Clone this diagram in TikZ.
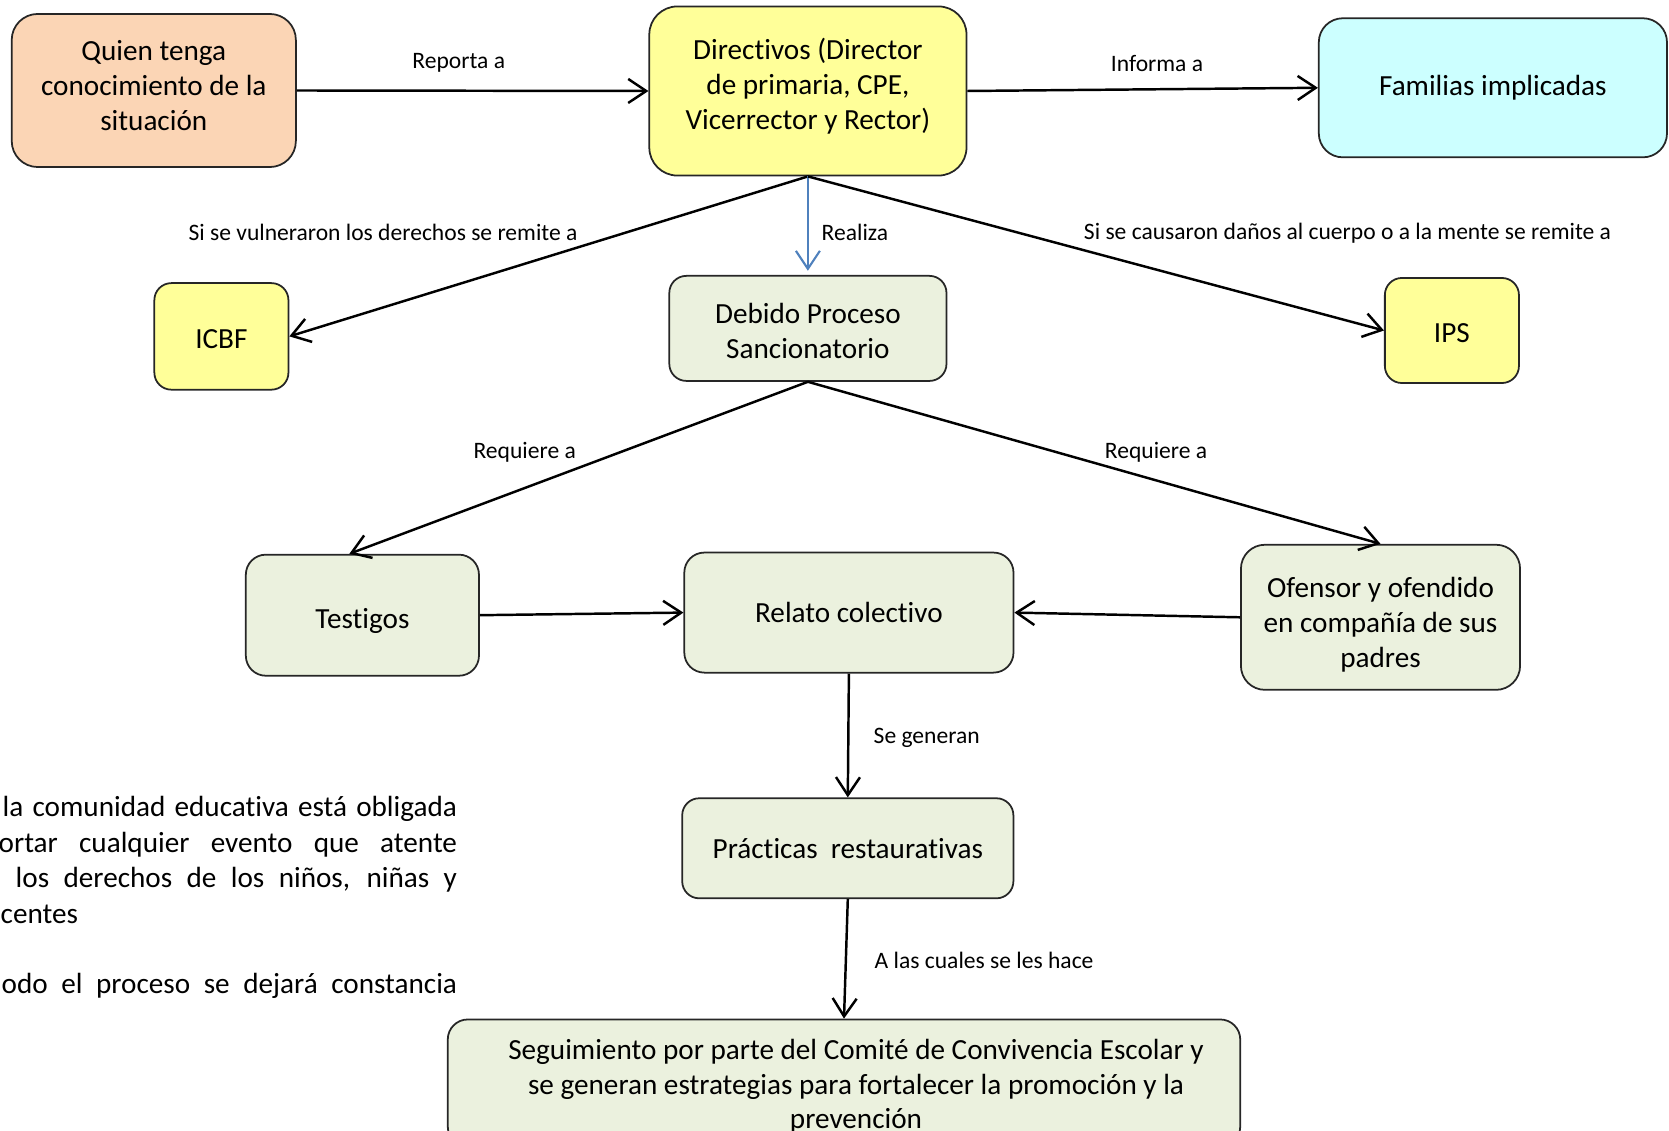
\documentclass[tikz,border=0pt]{standalone}
\usepackage{fontspec}
\setmainfont{Carlito}[Ligatures=NoCommon]
\usetikzlibrary{arrows.meta}
\definecolor{naranja}{HTML}{FBD5B5}
\definecolor{amarillo}{HTML}{FFFF99}
\definecolor{celeste}{HTML}{CCFFFF}
\definecolor{oliva}{HTML}{EBF1DE}
\definecolor{azulflecha}{HTML}{4F81BD}
\newcommand{\arriba}[1]{\rule{0pt}{#1}}% alto extra de la primera linea
\newcommand{\abajo}[1]{\rule[-#1]{0pt}{0pt}}% fondo extra de la ultima linea
\tikzset{
  mapnode/.style = {align=center, inner sep=0pt, text centered, draw=black!85,
    line width=0.5pt, rounded corners=0.2cm, font=\fontsize{8.3}{9.9}\selectfont},
  cm_nar/.style = {mapnode, fill=naranja, rounded corners=0.26cm},% concepto naranja
  cm_ama/.style = {mapnode, fill=amarillo},% concepto amarillo
  cm_cel/.style = {mapnode, fill=celeste, rounded corners=0.24cm},% concepto celeste
  cm_oli/.style = {mapnode, fill=oliva},% concepto oliva
  flecha/.style = {-{Straight Barb[length=0.18cm,width=0.24cm]}, line width=0.7pt},
  etiq/.style = {inner sep=0pt, font=\fontsize{6.7}{8}\selectfont},
  parr/.style = {inner sep=0pt, font=\fontsize{8.3}{9.9}\selectfont}
}
\begin{document}
\begin{tikzpicture}[x=0.01cm, y=-0.01cm]
\useasboundingbox (0,0) rectangle (1669,1131);
% conceptos
\node [cm_nar, minimum width=2.84cm, minimum height=1.53cm] (quien) at (153.8,90.5)
  {Quien tenga\\conocimiento de la\\situación\abajo{2.9pt}};
\node [cm_ama, minimum width=3.17cm, minimum height=1.69cm, rounded corners=0.28cm] (dir) at (807.9,91)
  {Directivos (Director\\de primaria, CPE,\\Vicerrector y Rector)\abajo{4.2pt}};
\node [cm_cel, minimum width=3.48cm, minimum height=1.39cm] (fam) at (1492.9,87.8)
  {Familias implicadas};
\node [cm_ama, minimum width=1.34cm, minimum height=1.065cm, rounded corners=0.17cm] (icbf) at (221.4,336.4) {\arriba{7.2pt}ICBF};
\node [cm_oli, minimum width=2.77cm, minimum height=1.05cm, rounded corners=0.17cm] (debido) at (807.9,328.4)
  {\arriba{7.1pt}Debido Proceso\\Sancionatorio};
\node [cm_ama, minimum width=1.34cm, minimum height=1.05cm, rounded corners=0.17cm] (ips) at (1451.9,330.5) {\arriba{6.9pt}IPS};
\node [cm_oli, minimum width=2.33cm, minimum height=1.21cm] (testigos) at (362.4,615.2) {\arriba{8.8pt}Testigos};
\node [cm_oli, minimum width=3.29cm, minimum height=1.20cm] (relato) at (848.9,612.6) {Relato colectivo};
\node [cm_oli, minimum width=2.79cm, minimum height=1.45cm, rounded corners=0.24cm] (ofensor) at (1380.5,617.3)
  {\arriba{10.1pt}Ofensor y ofendido\\en compañía de sus\\padres};
\node [cm_oli, minimum width=3.31cm, minimum height=1.00cm, rounded corners=0.17cm] (practicas) at (847.8,848.3)
  {Prácticas~ restaurativas};
\node [cm_oli, minimum width=7.92cm, minimum height=1.27cm] (seguim) at (844,1083)
  {\arriba{7.6pt}\hspace*{0.24cm}Seguimiento por parte del Comité de Convivencia Escolar y\\
   \hspace*{0.24cm}se generan estrategias para fortalecer la promoción y la\\
   \hspace*{0.24cm}prevención};
% conectores
\draw [flecha] (quien.east) -- (dir.west);
\draw [flecha] (dir.east) -- (fam.west);
\draw [flecha] (dir.south) -- (icbf.east);
\draw [flecha, azulflecha, line width=0.6pt, shorten >=1.2pt] (dir.south) -- (debido.north);
\draw [flecha] (dir.south) -- (ips.west);
\draw [flecha] (debido.south) -- ([xshift=-0.13cm]testigos.north);
\draw [flecha] (debido.south) -- (ofensor.north);
\draw [flecha] (testigos.east) -- (relato.west);
\draw [flecha] (ofensor.west) -- (relato.east);
\draw [flecha] (relato.south) -- (practicas.north);
\draw [flecha] (practicas.south) -- (seguim.north);
% etiquetas
\node [etiq] (e_reporta) at (458.8,62.5) {Reporta a};
\node [etiq] (e_informa) at (1157,63.5) {Informa a};
\node [etiq] (e_vulnera) at (383,232.5) {Si se vulneraron los derechos se remite a};
\node [etiq, anchor=west] (e_realiza) at (821,232.5) {Realiza};
\node [etiq] (e_causa) at (1347.5,233.5) {Si se causaron daños al cuerpo o a la mente se remite a};
\node [etiq] (e_req1) at (524.7,452) {Requiere a};
\node [etiq] (e_req2) at (1156,452) {Requiere a};
\node [etiq, anchor=west] (e_generan) at (873,738) {Se generan};
\node [etiq, anchor=west] (e_cuales) at (874,960.5) {A las cuales se les hace};
% texto recortado a la izquierda
\node [parr, anchor=base east] (p1) at (457.7,817) {\makebox[4.54cm][s]{la comunidad educativa está obligada}};
\node [parr, anchor=base east] (p2) at (457.7,852.5) {\makebox[4.58cm][s]{ortar cualquier evento que atente}};
\node [parr, anchor=base east] (p3) at (457.7,888) {\makebox[4.41cm][s]{los derechos de los niños, niñas y}};
\node [parr, anchor=base west] (p4) at (0,923.5) {centes};
\node [parr, anchor=base east] (p5) at (457.7,994) {\makebox[4.55cm][s]{odo el proceso se dejará constancia}};
\end{tikzpicture}
\end{document}
